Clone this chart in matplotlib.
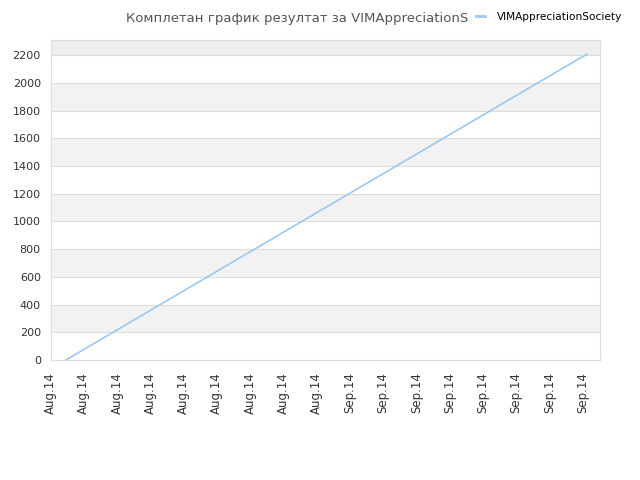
import matplotlib.pyplot as plt

series_name = 'VIMAppreciationSociety'
title = 'Комплетан график резултат за VIMAppreciationS'

# daily values
values = [0, 47, 94, 141, 188, 235, 282, 329, 376, 423, 470, 517, 564, 611,
          658, 705, 752, 799, 846, 893, 940, 987, 1034, 1081, 1128, 1175,
          1222, 1269, 1316, 1363, 1410, 1457, 1504, 1551, 1598, 1645, 1692,
          1739, 1786, 1833, 1880, 1927, 1974, 2021, 2068, 2115, 2162, 2207]
days = list(range(len(values)))

tick_labels = ['Aug.14'] * 9 + ['Sep.14'] * 8
yticks = list(range(0, 2201, 200))

fig = plt.figure(figsize=(6.4, 4.8), dpi=100)
ax = fig.add_axes([0.079, 0.25, 0.8585, 0.666])

ymax = 2308
# alternating bands
for lo in range(200, 2400, 400):
    c = '#eeeeee' if lo >= 2200 else '#f2f2f2'
    ax.axhspan(lo, min(lo + 200, ymax), color=c, zorder=0, lw=0)
for y in yticks[1:]:
    ax.axhline(y, color='#dddddd', lw=0.8, zorder=1)

ax.plot(days, values, color='#99c8f5', lw=1.2, zorder=3, label=series_name)

x0 = -1.38
ax.set_xlim(x0, x0 + 49.56)
ax.set_ylim(0, ymax)
ax.set_xticks([x0 + 3 * k for k in range(len(tick_labels))])
ax.set_xticklabels(tick_labels, rotation=90, fontsize=8.5, color='#333333')
ax.set_yticks(yticks)
ax.set_yticklabels([str(v) for v in yticks], fontsize=8, color='#333333')
ax.tick_params(axis='y', length=0, pad=7)
ax.tick_params(axis='x', length=0, pad=9)
for s in ax.spines.values():
    s.set_color('#dddddd')

fig.text(0.465, 0.975, title, ha='center', va='top', fontsize=9.5, color='#555555')
leg = fig.legend(loc='upper right', bbox_to_anchor=(0.987, 0.995), frameon=False,
                 fontsize=7.6, handlelength=0.85, handletextpad=1.1)
for h in leg.legend_handles:
    h.set_linewidth(2)

fig.savefig('out.png')
